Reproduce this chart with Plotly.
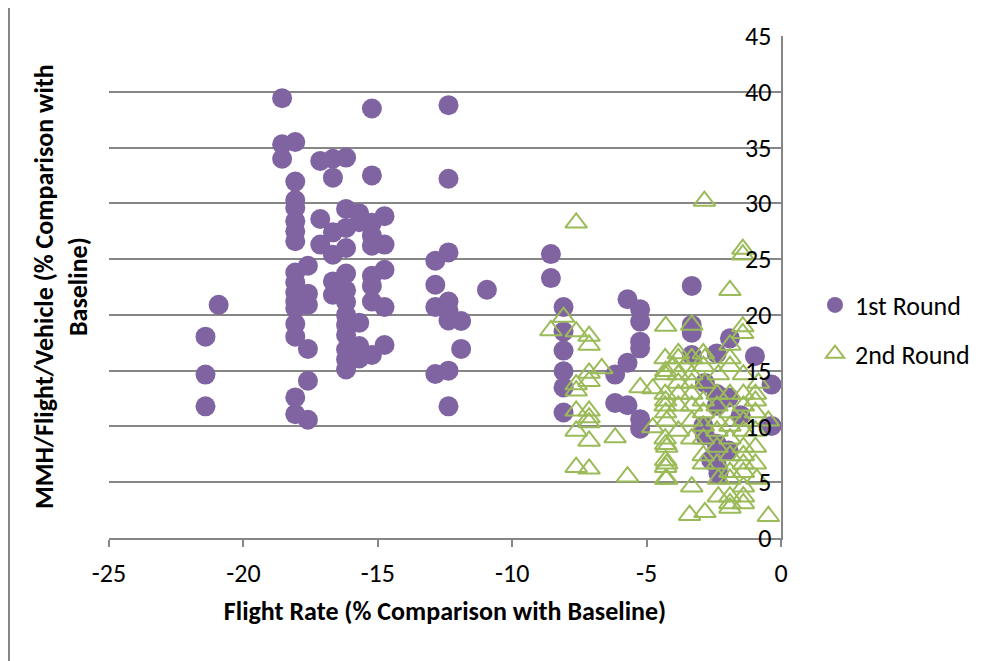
import plotly.graph_objects as go

# ---- Data ----
round1_x = [-21.41, -21.41, -21.41, -20.92,
            -18.56, -18.56, -18.56, -18.07, -18.07, -18.07, -18.07, -18.07, -18.07, -18.07,
            -18.07, -18.07, -18.07, -18.07, -18.07, -18.07, -18.07, -18.07, -18.07,
            -17.6, -17.6, -17.6, -17.6, -17.6, -17.6,
            -17.14, -17.14, -17.14,
            -16.67, -16.67, -16.67, -16.67, -16.67, -16.67,
            -16.18, -16.18, -16.18, -16.18, -16.18, -16.18, -16.18, -16.18, -16.18, -16.18,
            -16.18, -16.18, -16.18,
            -15.69, -15.69, -15.69, -15.69, -15.69,
            -15.22, -15.22, -15.22, -15.22, -15.22, -15.22, -15.22, -15.22, -15.22,
            -14.75, -14.75, -14.75, -14.75, -14.75,
            -12.86, -12.86, -12.86, -12.86,
            -12.37, -12.37, -12.37, -12.37, -12.37, -12.37, -12.37, -12.37,
            -11.9, -11.9, -10.94,
            -8.56, -8.56, -8.09, -8.09, -8.09, -8.09, -8.09, -8.09,
            -6.17, -6.17, -5.71, -5.71, -5.71, -5.24, -5.24, -5.24, -5.24, -5.24, -5.24,
            -3.32, -3.32, -3.32, -3.32, -2.39, -1.9, -0.97, -0.35, -2.83, -2.39, -1.95,
            -2.39, -2.89, -0.35, -2.83, -2.39, -2.39, -2.33, -1.95, -1.5, -2.6]
round1_y = [18.05, 14.65, 11.8, 20.9,
            39.43, 35.3, 34.0, 35.5, 31.95, 30.3, 29.6, 28.4, 27.5, 26.6,
            23.8, 22.9, 22.0, 21.2, 20.6, 19.2, 18.05, 12.6, 11.1,
            24.4, 21.9, 20.9, 16.95, 14.1, 10.6,
            33.8, 28.6, 26.3,
            34.0, 32.3, 27.4, 25.4, 23.0, 21.8,
            34.1, 29.5, 27.8, 26.0, 23.7, 22.2, 21.15, 20.0, 19.1, 18.2,
            16.9, 16.0, 15.1,
            29.1, 28.3, 19.3, 17.2, 16.1,
            38.5, 32.5, 28.25, 27.1, 26.2, 23.5, 22.6, 21.2, 16.4,
            28.85, 26.3, 24.05, 20.7, 17.3,
            24.85, 22.7, 20.7, 14.7,
            38.8, 32.2, 25.6, 21.2, 20.4, 19.5, 15.0, 11.8,
            19.45, 16.95, 22.25,
            25.45, 23.3, 20.7, 18.5, 16.8, 14.95, 13.5, 11.25,
            14.65, 12.1, 21.4, 15.7, 11.9, 20.5, 19.4, 17.6, 17.0, 10.65, 9.8,
            22.6, 19.1, 18.4, 16.4, 16.55, 17.9, 16.3, 13.75, 13.9, 12.9, 12.6,
            11.85, 10.05, 10.05, 9.2, 8.45, 6.5, 5.8, 7.85, 11.0, 7.0]

round2_x = [-8.09, -8.56, -7.62, -7.62, -7.14, -7.14, -6.67, -7.14, -7.14, -7.62, -7.62,
            -7.62, -7.14, -7.14, -7.14, -7.62, -7.14, -6.17, -7.62, -7.14, -5.71, -5.24,
            -4.77, -4.77, -4.29, -4.29, -4.29, -4.29, -4.29, -4.29, -4.29, -4.29,
            -2.85, -1.42, -1.42, -1.9, -3.32, -1.42, -1.42, -1.9, -3.82, -2.89,
            -4.31, -3.82, -3.32, -2.83, -1.9,
            -4.0, -3.57, -2.89, -1.9,
            -4.31, -3.82, -3.32, -2.33, -1.4,
            -3.82, -3.32, -2.83, -0.84,
            -4.31, -3.82, -3.32, -2.38, -1.9, -1.4, -0.95,
            -2.89, -0.95,
            -4.31, -3.82, -3.32, -2.38, -1.4,
            -2.89, -1.9, -0.95,
            -4.25, -3.32, -2.38, -1.4, -0.47,
            -2.89, -1.9,
            -3.82, -2.38, -1.4, -0.95,
            -4.31, -3.32, -2.89, -1.9,
            -4.25, -2.38, -1.4, -0.95,
            -2.89, -1.9, -1.4,
            -4.25, -2.89, -2.38, -1.4, -0.95,
            -1.9, -1.4,
            -4.25, -2.33, -1.9, -0.9,
            -3.32, -1.4,
            -2.33, -1.9, -1.4,
            -1.9, -1.4,
            -3.4, -2.83, -1.9,
            -0.47]
round2_y = [19.8, 18.6, 18.5, 28.25, 18.1, 17.3, 15.2, 14.8, 14.05, 13.75, 13.2,
            11.4, 11.4, 10.8, 10.35, 9.6, 8.7, 9.0, 6.35, 6.2, 5.5, 13.5,
            13.4, 9.9, 19.0, 14.95, 12.3, 11.25, 8.4, 6.95, 6.35, 5.3,
            30.2, 25.9, 25.4, 22.2, 19.1, 18.95, 18.35, 17.3, 16.55, 16.55,
            16.1, 16.1, 16.1, 16.1, 16.1,
            15.4, 15.4, 15.4, 15.4,
            14.65, 14.65, 14.65, 14.65, 14.65,
            13.9, 13.9, 13.9, 13.9,
            12.9, 12.9, 12.9, 12.9, 12.9, 12.9, 12.9,
            12.3, 12.3,
            11.85, 11.85, 11.85, 11.85, 11.85,
            11.25, 11.25, 11.25,
            10.5, 10.5, 10.5, 10.5, 10.5,
            10.05, 10.05,
            9.6, 9.6, 9.6, 9.6,
            8.9, 8.9, 8.9, 8.9,
            8.15, 8.15, 8.15, 8.15,
            7.4, 7.4, 7.4,
            6.65, 6.65, 6.65, 6.65, 6.65,
            5.9, 5.9,
            5.3, 5.3, 5.3, 5.3,
            4.6, 4.6,
            3.7, 3.7, 3.7,
            3.1, 3.1,
            2.05, 2.3, 2.7,
            1.95]

x_ticks = [-25, -20, -15, -10, -5, 0]
y_ticks = [0, 5, 10, 15, 20, 25, 30, 35, 40, 45]

series_names = ["1st Round", "2nd Round"]
purple = "#8064A2"
green = "#9BBB59"
axis_gray = "#868686"
FONT = "Carlito, Calibri, 'Open Sans', sans-serif"
FS = 26

# the page adds an 8px body margin, so target screen pixels are offset by 8
OFF = 8
W, H = 993, 661
L = 109 - OFF
T = 31 - OFF
R = W - (781 - OFF)
B = H - (538 - OFF)
pw, ph = W - L - R, H - T - B


def px_x(p):
    return (p - OFF - L) / pw


def px_y(p):
    return ((H - B) - (p - OFF)) / ph


fig = go.Figure()
fig.add_trace(go.Scatter(
    x=round1_x, y=round1_y, mode="markers", name=series_names[0],
    legendgroup="a", cliponaxis=False,
    marker=dict(symbol="circle", size=20, color=purple, line=dict(width=0)),
))
fig.add_trace(go.Scatter(
    x=round2_x, y=round2_y, mode="markers", name=series_names[1],
    legendgroup="b", cliponaxis=False,
    marker=dict(symbol="triangle-up-open", size=19, color=green,
                line=dict(width=2, color=green)),
))

fig.update_layout(
    width=W, height=H,
    margin=dict(l=L, r=R, t=T, b=B, pad=0),
    paper_bgcolor="white", plot_bgcolor="white",
    font=dict(family=FONT, size=FS, color="black"),
    showlegend=True,
    legend=dict(x=px_x(815), y=px_y(279), xanchor="left", yanchor="top",
                font=dict(size=FS, family=FONT, color="black"), tracegroupgap=12,
                bgcolor="rgba(0,0,0,0)", itemwidth=30),
    xaxis=dict(
        range=[-25, 0], tickvals=x_ticks, ticktext=[str(v) for v in x_ticks],
        showgrid=False, zeroline=False,
        showline=True, linecolor=axis_gray, linewidth=1.5,
        ticks="outside", ticklen=7, tickcolor=axis_gray, tickwidth=1.5,
        tickfont=dict(size=FS, family=FONT, color="black"),
        ticklabelstandoff=4,
        title=dict(text="<b>Flight Rate (% Comparison with Baseline)</b>",
                   font=dict(size=FS, family=FONT, color="black"), standoff=14),
    ),
    yaxis=dict(
        range=[0, 45], tickvals=y_ticks, ticktext=[str(v) for v in y_ticks],
        side="right", ticklabelposition="inside", ticklabeloverflow="allow",
        showgrid=True, gridcolor=axis_gray, gridwidth=1.5,
        zeroline=False,
        showline=True, linecolor=axis_gray, linewidth=1.5,
        ticks="", tickfont=dict(size=FS, family=FONT, color="black"),
        ticklabelstandoff=12,
    ),
    annotations=[dict(
        text="<b>MMH/Flight/Vehicle (% Comparison with<br>Baseline)</b>",
        xref="paper", yref="paper", x=px_x(61), y=0.5,
        xanchor="center", yanchor="middle", textangle=-90, showarrow=False,
        font=dict(size=FS, family=FONT, color="black"),
    )],
    shapes=[dict(
        type="line", xref="paper", yref="paper",
        x0=px_x(9), x1=px_x(9), y0=px_y(670), y1=px_y(-10),
        line=dict(color=axis_gray, width=2),
    )],
)

fig.write_html("out.html")
